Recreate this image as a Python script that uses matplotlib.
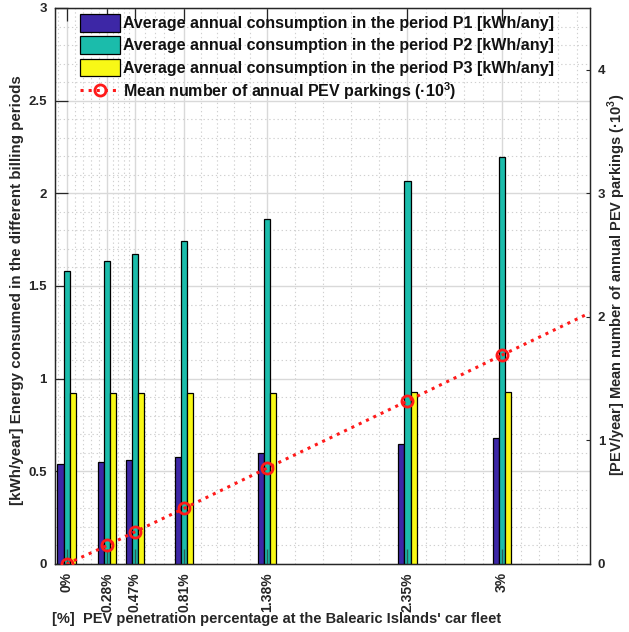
import numpy as np
import matplotlib
matplotlib.use("Agg")
import matplotlib.pyplot as plt
from matplotlib.ticker import FixedLocator, NullFormatter

plt.rcParams["font.family"] = ["Liberation Sans", "DejaVu Sans"]
plt.rcParams["font.weight"] = "bold"
plt.rcParams["mathtext.fontset"] = "custom"
plt.rcParams["mathtext.rm"] = "Liberation Sans:bold"
plt.rcParams["mathtext.bf"] = "Liberation Sans:bold"

# PEV penetration levels (%) and their tick labels
penetration = [0, 0.28, 0.47, 0.81, 1.38, 2.35, 3]
tick_labels = ["0%", "0.28%", "0.47%", "0.81%", "1.38%", "2.35%", "3%"]

# Average annual consumption per billing period
p1 = [0.54, 0.55, 0.56, 0.575, 0.60, 0.65, 0.68]
p2 = [1.58, 1.635, 1.675, 1.745, 1.86, 2.065, 2.195]
p3 = [0.92, 0.92, 0.92, 0.92, 0.925, 0.93, 0.93]
# small reference stubs drawn inside the P2 bars
stubs = [0.08, 0.08, 0.08, 0.08, 0.08, 0.08, 0.08]

# Mean number of annual PEV parkings (x10^3)
parkings = [0, 0.15, 0.26, 0.45, 0.775, 1.32, 1.69]

labels = [
    "Average annual consumption in the period P1 [kWh/any]",
    "Average annual consumption in the period P2 [kWh/any]",
    "Average annual consumption in the period P3 [kWh/any]",
    r"Mean number of annual PEV parkings (·10$^{3}$)",
]
colors = ["#3d27a6", "#1bbcab", "#f8f816"]
ink = "#262626"

W, H = 629, 632
fig = plt.figure(figsize=(W / 100, H / 100), dpi=100)
ax = fig.add_axes([55 / W, 1 - 564 / H, (589.5 - 55) / W, (564 - 8) / H])
ax2 = ax.twinx()

xlim = (-0.08, 3.605)
x = np.array(penetration)
bw = 0.042
bars = []
for k, (vals, c) in enumerate(zip([p1, p2, p3], colors)):
    b = ax.bar(x + (k - 1) * bw, vals, width=bw, color=c, edgecolor="black",
               linewidth=0.9, zorder=3)
    bars.append(b)
ax.vlines(x, 0, stubs, color="#2b5e58", linewidth=1.0, zorder=4)

ax.set_xlim(*xlim)
ax.set_ylim(0, 3)
ax.set_xticks(penetration)
ax.set_xticklabels(tick_labels, rotation=90, fontsize=10, fontweight="bold",
                   color=ink)
ax.set_yticks([0, 0.5, 1, 1.5, 2, 2.5, 3])
ax.set_yticklabels(["0", "0.5", "1", "1.5", "2", "2.5", "3"], fontsize=9.5,
                   fontweight="bold", color=ink)

# minor grid: four subdivisions between consecutive x ticks
minors = []
for a, b in zip(penetration[:-1], penetration[1:]):
    minors += list(np.linspace(a, b, 6)[1:-1])
step0 = (penetration[1] - penetration[0]) / 5
v = penetration[0] - step0
while v > xlim[0]:
    minors.append(v)
    v -= step0
step1 = (penetration[-1] - penetration[-2]) / 5
v = penetration[-1] + step1
while v < xlim[1]:
    minors.append(v)
    v += step1
ax.xaxis.set_minor_locator(FixedLocator(sorted(minors)))
ax.yaxis.set_minor_locator(FixedLocator(np.arange(0, 3.01, 0.1)))
ax.xaxis.set_minor_formatter(NullFormatter())

ax.set_axisbelow(True)
ax.grid(which="major", color="#d9d9d9", linewidth=1.0, linestyle="-")
ax.grid(which="minor", color="#d0d0d0", linewidth=0.8, linestyle=(0, (1.2, 2.5)))
ax.tick_params(which="major", direction="in", length=9, width=0.9, top=True,
               pad=6, colors=ink)
ax.tick_params(which="minor", length=0)

# parkings on the right axis, extended to the right edge along the trend
ax2.set_ylim(0, 4.5)
ax2.set_yticks([0, 1, 2, 3, 4])
ax2.set_yticklabels(["0", "1", "2", "3", "4"], fontsize=9.5, fontweight="bold",
                    color=ink)
ax2.tick_params(direction="in", length=3, pad=6, colors=ink)
slope = np.polyfit(penetration, parkings, 1)[0]
ax2.plot([penetration[-1], xlim[1]],
         [parkings[-1], parkings[-1] + slope * (xlim[1] - penetration[-1])],
         linestyle=":", color="#ff1a1a", linewidth=2.2, zorder=5)
line, = ax2.plot(penetration, parkings, linestyle=":", color="#ff1a1a",
                 linewidth=2.2, marker="o", markersize=8, markerfacecolor="none",
                 markeredgecolor="#ff1a1a", markeredgewidth=2, zorder=6)

for s in list(ax.spines.values()) + list(ax2.spines.values()):
    s.set_linewidth(0.9)
    s.set_color(ink)

leg = ax2.legend(bars + [line], labels, loc="upper left",
                 bbox_to_anchor=(0.047, 0.989), frameon=False,
                 prop={"weight": "bold", "size": 11.5},
                 handlelength=2.5, handleheight=1.3, labelspacing=0.3,
                 handletextpad=0.2, borderpad=0, borderaxespad=0, numpoints=1)
for t in leg.get_texts():
    t.set_color("#111111")

fig.text(17 / W, 1 - 290 / H,
         "[kWh/year] Energy consumed in the different billing periods",
         rotation=90, ha="center", va="center", fontsize=10.9, fontweight="bold",
         color=ink)
fig.text(617 / W, 1 - 285 / H,
         r"[PEV/year] Mean number of annual PEV parkings (·10$^{3}$)",
         rotation=90, ha="center", va="center", fontsize=10.5, fontweight="bold",
         color=ink)
fig.text(52 / W, 1 - 619 / H,
         "[%]  PEV penetration percentage at the Balearic Islands' car fleet",
         ha="left", va="center", fontsize=10.5, fontweight="bold", color=ink)

fig.savefig("out.png", dpi=100)
